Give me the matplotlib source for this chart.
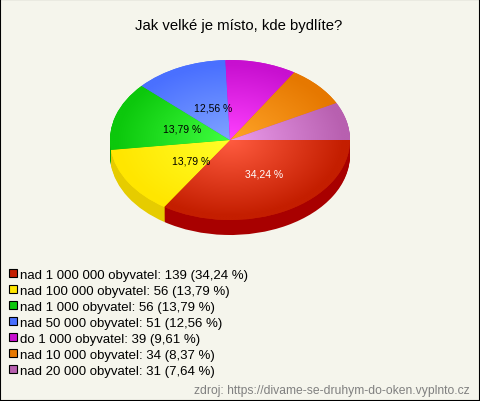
import matplotlib
matplotlib.use("Agg")
import matplotlib.pyplot as plt
import numpy as np
from matplotlib.colors import LinearSegmentedColormap
from matplotlib.patches import Rectangle

plt.rcParams["font.family"] = ["Liberation Sans", "DejaVu Sans"]

W, H = 480, 402

title = "Jak velké je místo, kde bydlíte?"
source = "zdroj: https://divame-se-druhym-do-oken.vyplnto.cz"
categories = [
    "nad 1 000 000 obyvatel",
    "nad 100 000 obyvatel",
    "nad 1 000 obyvatel",
    "nad 50 000 obyvatel",
    "do 1 000 obyvatel",
    "nad 10 000 obyvatel",
    "nad 20 000 obyvatel",
]
counts = [139, 56, 56, 51, 39, 34, 31]
percents = ["34,24", "13,79", "13,79", "12,56", "9,61", "8,37", "7,64"]

rim_colors = ["#c41e00", "#ffe600", "#0cc80c", "#4a70ff", "#c810d0", "#e67800", "#b860b0"]
center_colors = ["#ff5c40", "#ffff28", "#40ff40", "#80a4ff", "#ff40ff", "#ffa428", "#ec9cec"]
side_colors = ["#a80000", "#e6cc00", "#0aa00a", "#3a58cc", "#a00ca8", "#b86000", "#904c8c"]

# slice labels in pixels, the two smallest ones have none in the original
label_pos = [(264, 175), (191, 162), (182, 130), (213, 109)]
label_colors = ["white", "black", "black", "black"]


def fx(x):
    return x / W


def fy(y):
    return 1 - y / H


fig = plt.figure(figsize=(W / 100, H / 100), dpi=100, facecolor="#f5f5ec")
fig.add_artist(Rectangle((0, 0), 1, 1, transform=fig.transFigure, fill=False,
                         edgecolor="black", linewidth=1.5))

# axes spans exactly the top ellipse: centre (230, 141), radii 120 x 80
ax = fig.add_axes([fx(110), fy(221), 240 / W, 160 / H])
depth = 15 / 80

# side of the pie, stacked copies going down
for off in np.linspace(depth, 0.01, 16):
    ax.pie(counts, colors=side_colors, startangle=0, counterclock=False,
           center=(0, -off), radius=1, frame=True)

wedges = ax.pie(counts, colors=rim_colors, startangle=0, counterclock=False,
                center=(0, 0), radius=1, frame=True)[0]

# radial shading of each slice
yy, xx = np.mgrid[-1:1:400j, -1:1:400j]
rr = np.clip(np.hypot(xx, yy), 0, 1)
for wedge, c0, c1 in zip(wedges, center_colors, rim_colors):
    cmap = LinearSegmentedColormap.from_list("shade", [c0, c1])
    im = ax.imshow(rr, extent=(-1, 1, -1, 1), origin="lower", cmap=cmap,
                   vmin=0, vmax=0.95, aspect="auto", zorder=3, clip_on=True)
    im.set_clip_path(wedge)

ax.set_aspect("auto")
ax.set_xlim(-1, 1)
ax.set_ylim(-1, 1)
ax.axis("off")

fig.text(fx(238.5), fy(26), title, ha="center", va="center", fontsize=10.7, color="black")

for (x, y), p, c in zip(label_pos, percents, label_colors):
    fig.text(fx(x), fy(y), p + " %", ha="center", va="center", fontsize=7.5, color=c)

for i, (name, n, p, c) in enumerate(zip(categories, counts, percents, rim_colors)):
    y = 275 + 16 * i
    fig.add_artist(Rectangle((fx(9), fy(y + 3)), 8 / W, 8 / H, transform=fig.transFigure,
                             facecolor=c, edgecolor="black", linewidth=0.8))
    fig.text(fx(20), fy(y + 1), f"{name}: {n} ({p} %)", ha="left", va="center",
             fontsize=9.55, color="black")

fig.text(fx(470), fy(391), source, ha="right", va="center", fontsize=8.7, color="#808080")

fig.savefig("out.png", dpi=100, facecolor=fig.get_facecolor())
